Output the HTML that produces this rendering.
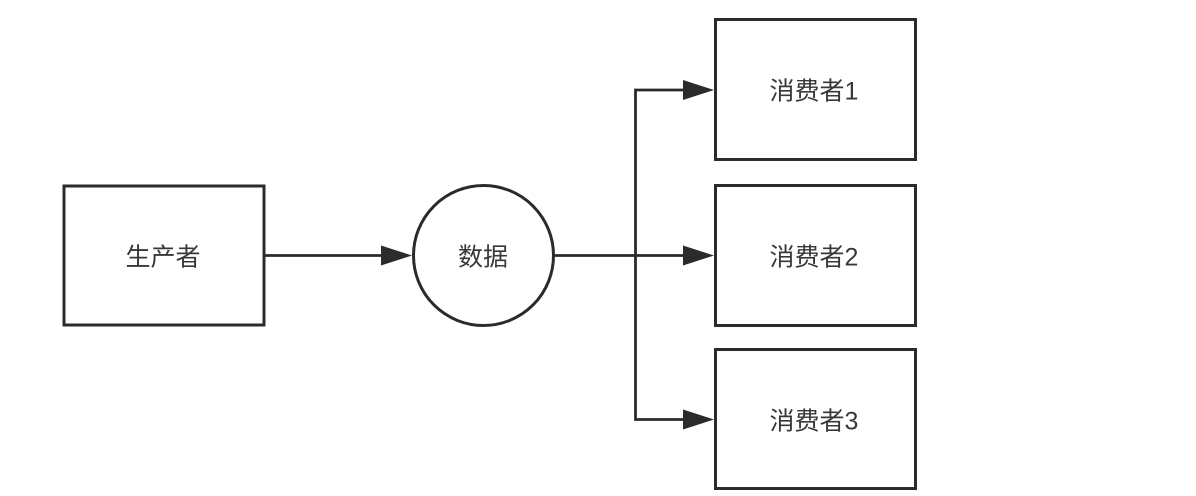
<!DOCTYPE html>
<html>
<head>
<meta charset="utf-8">
<style>
  html,body{margin:0;padding:0;background:#fff;}
  body{width:1196px;height:496px;overflow:hidden;}
  svg{display:block;}
  text{font-family:"Liberation Sans","Noto Sans CJK SC",sans-serif;font-size:25px;fill:#383838;}
</style>
</head>
<body>
<svg width="1196" height="496" viewBox="0 0 1196 496" xmlns="http://www.w3.org/2000/svg">
  <g fill="none" stroke="#2b2b2b" stroke-width="3">
    <rect x="64" y="186" width="200" height="139"/>
    <circle cx="483.5" cy="255.5" r="70"/>
    <rect x="715.5" y="19.5" width="200" height="140"/>
    <rect x="715.5" y="185.5" width="200" height="140"/>
    <rect x="715.5" y="349.5" width="200" height="139"/>
  </g>
  <g fill="none" stroke="#2b2b2b" stroke-width="2.8">
    <line x1="265" y1="255.5" x2="384" y2="255.5"/>
    <line x1="554" y1="255.5" x2="686" y2="255.5"/>
    <polyline points="686,90 635.5,90 635.5,419.5 686,419.5"/>
  </g>
  <g fill="#2b2b2b">
    <polygon points="381,245.5 412,255.5 381,265.5"/>
    <polygon points="683,80 714,90 683,100"/>
    <polygon points="683,245.5 714,255.5 683,265.5"/>
    <polygon points="683,409.5 714,419.5 683,429.5"/>
  </g>
  <g text-anchor="middle">
    <text x="163" y="265.5">生产者</text>
    <text x="483" y="265.5">数据</text>
    <text x="814" y="99.5">消费者1</text>
    <text x="814" y="265.5">消费者2</text>
    <text x="814" y="429.5">消费者3</text>
  </g>
</svg>
</body>
</html>
